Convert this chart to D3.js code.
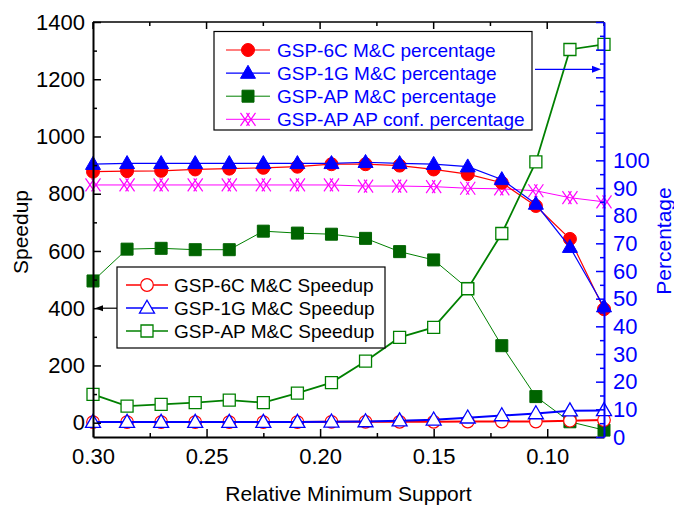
<!DOCTYPE html>
<html>
<head>
<meta charset="utf-8">
<script src="https://cdn.jsdelivr.net/npm/d3@7"></script>
<style>
  html, body { margin: 0; padding: 0; background: #fff; }
  svg { display: block; font-family: "Liberation Sans", Arial, sans-serif; }
</style>
</head>
<body>
<svg id="chart" width="674" height="512"></svg>
<script>
// Relative minimum support values (x axis, plotted right-to-left)
const support = [0.300, 0.285, 0.270, 0.255, 0.240, 0.225, 0.210, 0.195,
                 0.180, 0.165, 0.150, 0.135, 0.120, 0.105, 0.090, 0.075];

// Percentage series (right axis)
const pct6C   = [95.9, 96.1, 96.2, 96.7, 97.0, 97.3, 97.7, 98.6, 98.6, 98.1, 96.7, 95.0, 91.9, 83.5, 71.6, 46.2];
const pct1G   = [98.6, 98.9, 98.9, 98.9, 98.9, 98.9, 98.9, 98.9, 99.3, 98.9, 98.6, 97.7, 93.1, 84.2, 68.6, 47.1];
const pctAP   = [56.4, 67.9, 68.2, 67.7, 67.7, 74.4, 73.7, 73.3, 71.8, 67.0, 64.0, 53.7, 33.0, 14.6, 5.5, 2.5];
const pctConf = [91.1, 91.1, 91.1, 91.1, 91.1, 91.1, 91.1, 91.1, 90.7, 90.7, 90.5, 89.9, 89.7, 89.0, 86.5, 85.0];

// Speedup series (left axis)
const spd6C = [2, 2, 2, 2, 2, 2, 2, 3, 3, 3, 3, 4, 4, 4, 7, 9];
const spd1G = [2, 2, 2, 2, 2, 2, 2, 3, 4, 7, 10, 17, 25, 32, 42, 43];
const spdAP = [99, 58, 64, 70, 79, 70, 103, 140, 215, 298, 333, 468, 661, 911, 1304, 1322];

// Tick values
const xTicks = [0.30, 0.25, 0.20, 0.15, 0.10];
const xMinor = [0.275, 0.225, 0.175, 0.125, 0.075];
const leftTicks = [0, 200, 400, 600, 800, 1000, 1200, 1400];
const leftMinor = [100, 300, 500, 700, 900, 1100, 1300];
const rightTicks = [0, 10, 20, 30, 40, 50, 60, 70, 80, 90, 100];
const rightExtra = [110, 120, 130, 140, 150];
const rightMinor = [5, 15, 25, 35, 45, 55, 65, 75, 85, 95, 105, 115, 125, 135, 145];

const svg = d3.select("#chart");
const L = 93, R = 604, T = 22, B = 437;

const x  = d3.scaleLinear().domain([0.30, 0.075]).range([L, R]);
const yL = d3.scaleLinear().domain([-50, 1400]).range([B, T]);
const yR = d3.scaleLinear().domain([0, 150]).range([B, T]);

const RED = "#ff0000", BLUE = "#0000ff", GREEN = "#008000", DKGREEN = "#006400", MAG = "#ff00ff";

// ---- marker shapes ----
const circle = r => `M${-r},0A${r},${r} 0 1,0 ${r},0A${r},${r} 0 1,0 ${-r},0Z`;
const tri = (w, h) => `M0,${-h * 0.6}L${w / 2},${h * 0.4}L${-w / 2},${h * 0.4}Z`;
const square = s => `M${-s / 2},${-s / 2}h${s}v${s}h${-s}Z`;
// two overlapping crosses side by side
const doubleX = () => {
  const hw = 4.5, hh = 6.5, off = 3;
  let p = "";
  [-off, off].forEach(c => {
    p += `M${c - hw},${-hh}L${c + hw},${hh}M${c - hw},${hh}L${c + hw},${-hh}`;
  });
  return p;
};

function drawSeries(vals, yScale, opt) {
  const pts = vals.map((v, i) => [x(support[i]), yScale(v)]);
  const g = svg.append("g");
  g.append("path")
    .attr("d", d3.line()(pts))
    .attr("fill", "none")
    .attr("stroke", opt.line)
    .attr("stroke-width", opt.lw || 1.2);
  g.selectAll("path.m").data(pts).enter().append("path")
    .attr("class", "m")
    .attr("transform", d => `translate(${d[0]},${d[1]})`)
    .attr("d", opt.shape)
    .attr("fill", opt.fill)
    .attr("stroke", opt.stroke)
    .attr("stroke-width", opt.sw || 1.2);
}

// ---- percentage series ----
drawSeries(pctAP, yR, { line: GREEN, lw: 1, shape: square(12), fill: DKGREEN, stroke: DKGREEN, sw: 1 });
drawSeries(pctConf, yR, { line: MAG, lw: 1, shape: doubleX(), fill: "none", stroke: MAG, sw: 1.2 });
drawSeries(pct6C, yR, { line: RED, lw: 1.2, shape: circle(6.5), fill: RED, stroke: RED, sw: 1 });
drawSeries(pct1G, yR, { line: BLUE, lw: 1.2, shape: tri(15, 13), fill: BLUE, stroke: BLUE, sw: 1 });

// ---- speedup series ----
drawSeries(spdAP, yL, { line: GREEN, lw: 1.8, shape: square(12), fill: "#fff", stroke: GREEN, sw: 1.3 });
drawSeries(spd6C, yL, { line: RED, lw: 2, shape: circle(6.3), fill: "#fff", stroke: RED, sw: 1.2 });
drawSeries(spd1G, yL, { line: BLUE, lw: 2, shape: tri(15, 13), fill: "#fff", stroke: BLUE, sw: 1.3 });

// ---- axes ----
const fs = 22;

// top frame with mirrored ticks
svg.append("line").attr("x1", L).attr("x2", R).attr("y1", T).attr("y2", T)
  .attr("stroke", "#000").attr("stroke-width", 1.5);
svg.append("g").selectAll("line").data(xTicks.concat(xMinor)).enter().append("line")
  .attr("x1", d => x(d)).attr("x2", d => x(d)).attr("y1", T)
  .attr("y2", d => T + (xTicks.includes(d) ? 7 : 4))
  .attr("stroke", "#000").attr("stroke-width", 1.5);

// bottom axis
const gx = svg.append("g").attr("transform", `translate(0,${B})`)
  .call(d3.axisBottom(x).tickValues(xTicks).tickFormat(d3.format(".2f"))
    .tickSize(-8).tickSizeOuter(0).tickPadding(11));
svg.append("g").attr("transform", `translate(0,${B})`)
  .call(d3.axisBottom(x).tickValues(xMinor).tickFormat("").tickSize(-4).tickSizeOuter(0))
  .select(".domain").remove();

// left axis
const gl = svg.append("g").attr("transform", `translate(${L},0)`)
  .call(d3.axisLeft(yL).tickValues(leftTicks).tickFormat(d3.format("d"))
    .tickSize(-8).tickSizeOuter(0).tickPadding(8));
svg.append("g").attr("transform", `translate(${L},0)`)
  .call(d3.axisLeft(yL).tickValues(leftMinor).tickFormat("").tickSize(-4).tickSizeOuter(0))
  .select(".domain").remove();

// right axis (blue)
const gr = svg.append("g").attr("transform", `translate(${R},0)`)
  .call(d3.axisRight(yR).tickValues(rightTicks).tickFormat(d3.format("d"))
    .tickSize(-8).tickSizeOuter(0).tickPadding(9));
const grx = svg.append("g").attr("transform", `translate(${R},0)`)
  .call(d3.axisRight(yR).tickValues(rightExtra).tickFormat("").tickSize(-8).tickSizeOuter(0));
grx.select(".domain").remove();
const grm = svg.append("g").attr("transform", `translate(${R},0)`)
  .call(d3.axisRight(yR).tickValues(rightMinor).tickFormat("").tickSize(-4).tickSizeOuter(0));
grm.select(".domain").remove();

[gx, gl, gr].forEach(g => {
  g.selectAll("text").attr("font-size", fs).attr("font-family", "Liberation Sans, Arial, sans-serif");
  g.select(".domain").attr("stroke-width", 2);
});
svg.selectAll(".tick line").attr("stroke-width", 1.5);
[gr, grx, grm].forEach(g => {
  g.selectAll(".tick line").attr("stroke", BLUE);
  g.select(".domain").attr("stroke", BLUE);
});
gr.selectAll("text").attr("fill", BLUE);

// axis titles
svg.append("text").attr("transform", `translate(28,232) rotate(-90)`)
  .attr("text-anchor", "middle").attr("font-size", 21).text("Speedup");
svg.append("text").attr("transform", `translate(671,241) rotate(-90)`)
  .attr("text-anchor", "middle").attr("font-size", 21).attr("fill", BLUE).text("Percentage");
svg.append("text").attr("x", (L + R) / 2).attr("y", 501)
  .attr("text-anchor", "middle").attr("font-size", 21).text("Relative Minimum Support");

// arrows pointing at the axis each legend refers to
svg.append("line").attr("x1", 117).attr("x2", 100).attr("y1", yL(400)).attr("y2", yL(400))
  .attr("stroke", "#000").attr("stroke-width", 1.2);
svg.append("path").attr("d", `M${L + 2},${yL(400)}l8,-3v6Z`).attr("fill", "#000");
svg.append("line").attr("x1", 535).attr("x2", 594).attr("y1", 69.3).attr("y2", 69.3)
  .attr("stroke", BLUE).attr("stroke-width", 1.2);
svg.append("path").attr("d", `M${R - 3},69.3l-9,-3.5v7Z`).attr("fill", BLUE);

// ---- legends ----
function legend(box, rows, textColor) {
  const g = svg.append("g");
  g.append("rect").attr("x", box.x).attr("y", box.y).attr("width", box.w).attr("height", box.h)
    .attr("fill", "#fff").attr("stroke", "#000").attr("stroke-width", 1.2);
  rows.forEach((r, i) => {
    const cy = box.row0 + i * box.step;
    g.append("line").attr("x1", box.lx0).attr("x2", box.lx1).attr("y1", cy).attr("y2", cy)
      .attr("stroke", r.line).attr("stroke-width", r.lw);
    g.append("path").attr("transform", `translate(${(box.lx0 + box.lx1) / 2},${cy})`)
      .attr("d", r.shape).attr("fill", r.fill).attr("stroke", r.stroke).attr("stroke-width", r.sw);
    g.append("text").attr("x", box.tx).attr("y", cy).attr("dy", "0.35em")
      .attr("font-size", 19).attr("fill", textColor).text(r.label);
  });
}

legend({ x: 214, y: 31.5, w: 318, h: 98.5, row0: 50, step: 23.1, lx0: 226, lx1: 270, tx: 277 }, [
  { label: "GSP-6C M&C percentage", line: RED, lw: 1.2, shape: circle(6.5), fill: RED, stroke: RED, sw: 1 },
  { label: "GSP-1G M&C percentage", line: BLUE, lw: 1.2, shape: tri(15, 13), fill: BLUE, stroke: BLUE, sw: 1 },
  { label: "GSP-AP M&C percentage", line: GREEN, lw: 1, shape: square(12), fill: DKGREEN, stroke: DKGREEN, sw: 1 },
  { label: "GSP-AP AP conf. percentage", line: MAG, lw: 1, shape: doubleX(), fill: "none", stroke: MAG, sw: 1.2 }
], BLUE);

legend({ x: 117, y: 267, w: 268, h: 81, row0: 285, step: 23, lx0: 126, lx1: 168, tx: 174 }, [
  { label: "GSP-6C M&C Speedup", line: RED, lw: 1.5, shape: circle(6.3), fill: "#fff", stroke: RED, sw: 1.2 },
  { label: "GSP-1G M&C Speedup", line: BLUE, lw: 1.5, shape: tri(15, 13), fill: "#fff", stroke: BLUE, sw: 1.3 },
  { label: "GSP-AP M&C Speedup", line: GREEN, lw: 1.5, shape: square(12), fill: "#fff", stroke: GREEN, sw: 1.3 }
], "#000");
</script>
</body>
</html>
